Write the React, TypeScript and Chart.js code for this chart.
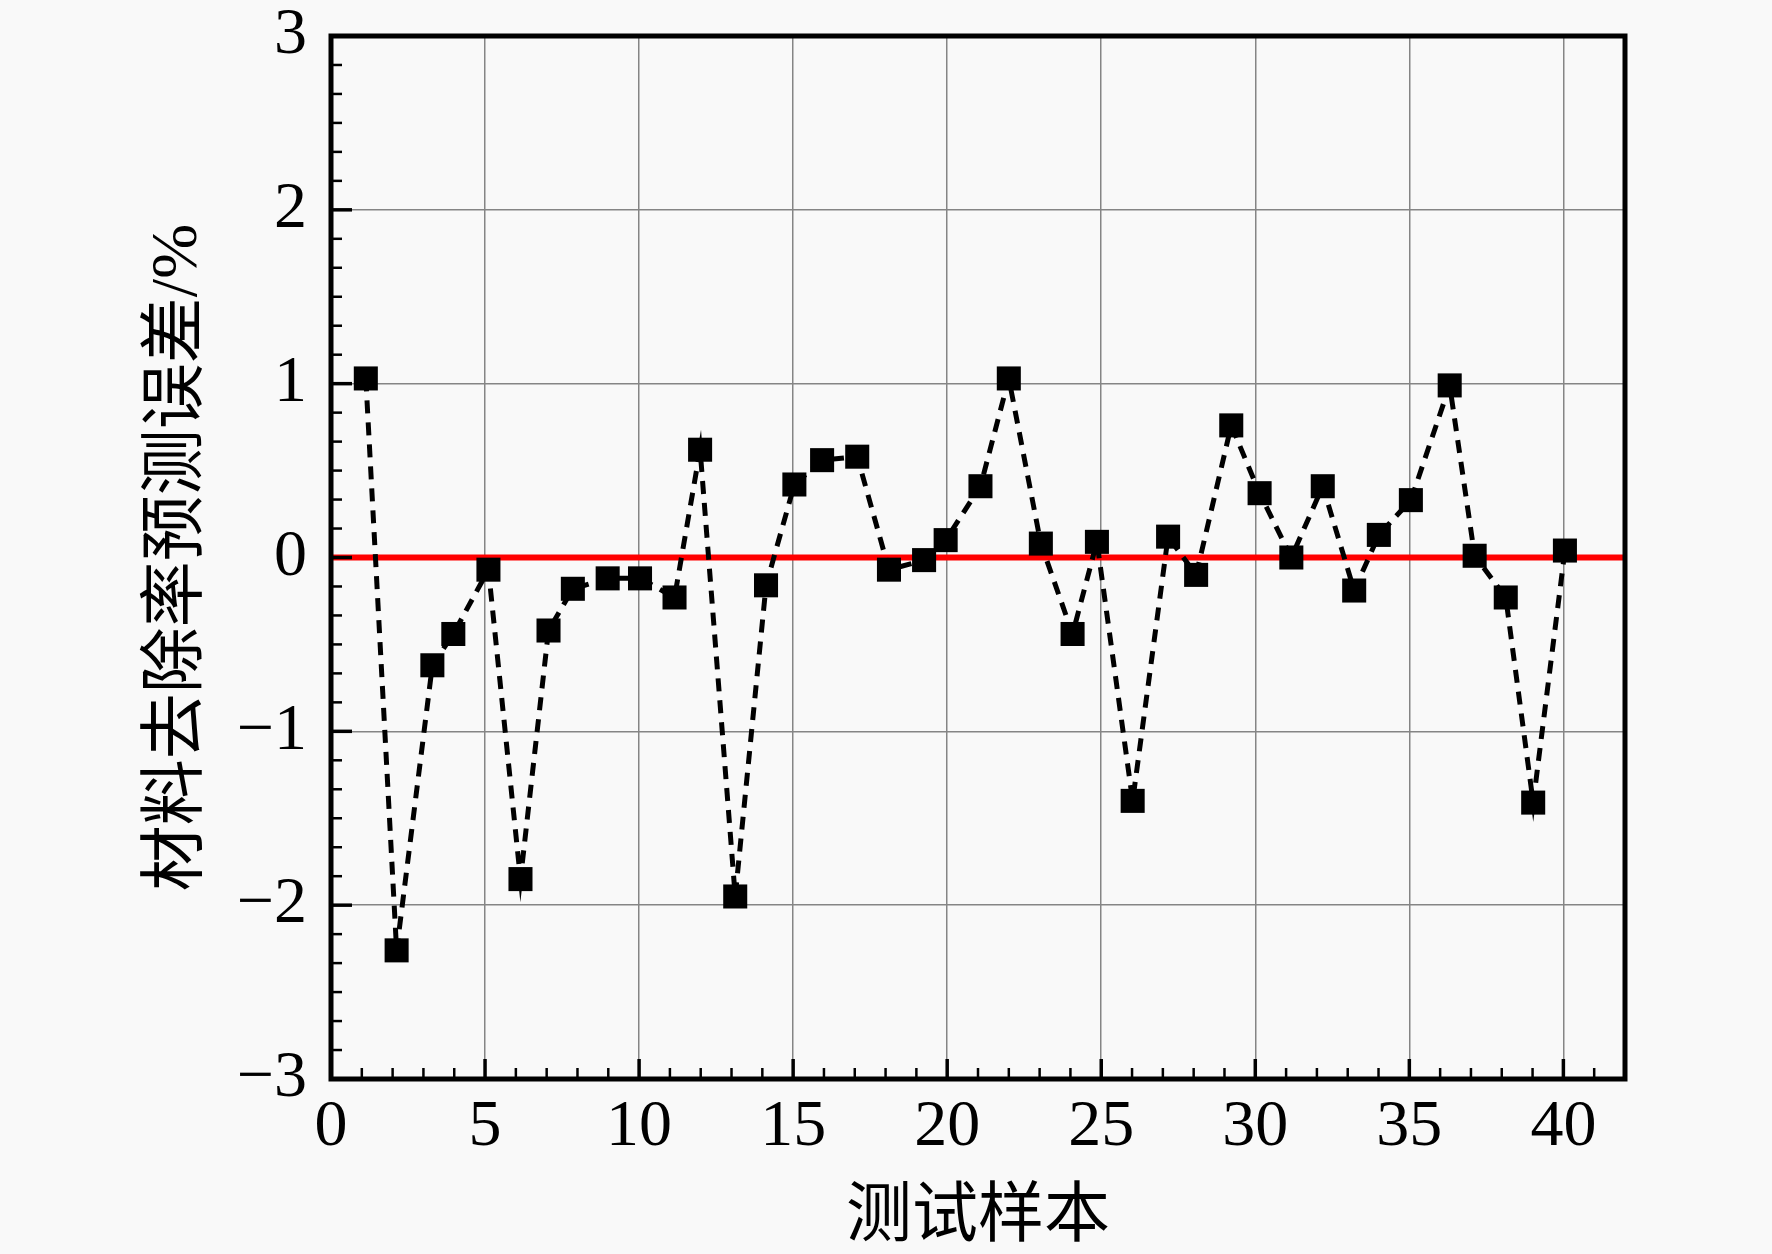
import { useEffect, useRef } from "react"
import { Chart, registerables } from "chart.js"

Chart.register(...registerables)

// test sample index (as placed on the x axis) and the prediction error in %
const sampleX = [
  1.13, 2.13, 3.29, 3.97, 5.11, 6.15, 7.06, 7.85, 8.98, 10.03,
  11.15, 11.98, 13.12, 14.12, 15.04, 15.94, 17.08, 18.11, 19.25, 19.95,
  21.08, 22.0, 23.04, 24.07, 24.86, 26.02, 27.17, 28.08, 29.22, 30.14,
  31.17, 32.19, 33.21, 34.01, 35.05, 36.31, 37.12, 38.13, 39.02, 40.05,
]
const errorY = [
  1.03, -2.26, -0.62, -0.44, -0.07, -1.85, -0.42, -0.18, -0.12, -0.12,
  -0.23, 0.62, -1.95, -0.16, 0.42, 0.56, 0.58, -0.07, -0.015, 0.1,
  0.41, 1.03, 0.08, -0.44, 0.09, -1.4, 0.12, -0.1, 0.76, 0.37,
  0.0, 0.41, -0.19, 0.13, 0.33, 0.99, 0.01, -0.23, -1.41, 0.04,
]

// reference line at zero error
const zeroLineX = [0, 42]
const zeroLineY = [0, 0]

const xTicks = [0, 5, 10, 15, 20, 25, 30, 35, 40]
const yTicks = [-3, -2, -1, 0, 1, 2, 3]
const xRange = [0, 42]
const yRange = [-3, 3]
const xMinorStep = 1
const yMinorStep = 1 / 6

const xTitle = "测试样本"
const yTitle = "材料去除率预测误差/%"

const FONT = "'Liberation Serif', 'Times New Roman', 'Noto Sans CJK SC', serif"
const BG = "#f9f9f9"

// frame plus inward ticks, drawn on top of the grid
const framePlugin = {
  id: "frame",
  beforeDraw(chart: Chart) {
    const { ctx, width, height } = chart
    ctx.save()
    ctx.fillStyle = BG
    ctx.fillRect(0, 0, width, height)
    ctx.restore()
  },
  afterDraw(chart: Chart) {
    const { ctx, chartArea } = chart
    const { left, right, top, bottom } = chartArea
    const xs = chart.scales.x
    const ys = chart.scales.y
    ctx.save()
    ctx.strokeStyle = "#000"
    ctx.lineCap = "butt"

    // minor ticks
    ctx.lineWidth = 2.5
    for (let v = xRange[0] + xMinorStep; v < xRange[1]; v += xMinorStep) {
      if (xTicks.includes(Math.round(v))) continue
      const px = xs.getPixelForValue(v)
      ctx.beginPath()
      ctx.moveTo(px, bottom)
      ctx.lineTo(px, bottom - 11)
      ctx.stroke()
    }
    for (let i = 1; yRange[0] + i * yMinorStep < yRange[1] - 1e-6; i++) {
      if (i % 6 === 0) continue
      const py = ys.getPixelForValue(yRange[0] + i * yMinorStep)
      ctx.beginPath()
      ctx.moveTo(left, py)
      ctx.lineTo(left + 11, py)
      ctx.stroke()
    }

    // major ticks
    ctx.lineWidth = 3.5
    xTicks.forEach((v) => {
      const px = xs.getPixelForValue(v)
      ctx.beginPath()
      ctx.moveTo(px, bottom)
      ctx.lineTo(px, bottom - 20)
      ctx.stroke()
    })
    yTicks.forEach((v) => {
      const py = ys.getPixelForValue(v)
      ctx.beginPath()
      ctx.moveTo(left, py)
      ctx.lineTo(left + 21, py)
      ctx.stroke()
    })

    ctx.lineWidth = 5
    ctx.strokeRect(left, top, right - left, bottom - top)
    ctx.restore()
  },
}

function ErrorChart() {
  const canvasRef = useRef<HTMLCanvasElement>(null)
  const chartRef = useRef<Chart | null>(null)

  useEffect(() => {
    if (!canvasRef.current) return
    if (chartRef.current) chartRef.current.destroy()

    const points = sampleX.map((x, i) => ({ x, y: errorY[i] }))
    const zero = zeroLineX.map((x, i) => ({ x, y: zeroLineY[i] }))

    chartRef.current = new Chart(canvasRef.current, {
      type: "line",
      data: {
        datasets: [
          {
            data: points,
            borderColor: "#000",
            borderWidth: 5,
            borderDash: [13, 9],
            pointStyle: "rect",
            pointRadius: 17,
            pointBackgroundColor: "#000",
            pointBorderWidth: 0,
            order: 0,
          },
          {
            data: zero,
            borderColor: "#ff0000",
            borderWidth: 6,
            pointRadius: 0,
            order: 1,
          },
        ],
      },
      plugins: [framePlugin],
      options: {
        responsive: true,
        maintainAspectRatio: false,
        animation: false,
        devicePixelRatio: 1,
        layout: { padding: { left: 0, top: 36, right: 147, bottom: 0 } },
        plugins: {
          legend: { display: false },
          tooltip: { enabled: false },
        },
        scales: {
          x: {
            type: "linear",
            min: xRange[0],
            max: xRange[1],
            afterBuildTicks: (scale) => {
              scale.ticks = xTicks.map((value) => ({ value }))
            },
            afterFit: (scale) => {
              scale.height = 175
              scale.paddingLeft = 0
              scale.paddingRight = 0
            },
            grid: { color: "#858585", lineWidth: 1.5, drawTicks: false },
            border: { display: false },
            ticks: {
              color: "#000",
              padding: 16,
              font: { family: FONT, size: 66, lineHeight: 1 },
              maxRotation: 0,
              autoSkip: false,
            },
            title: {
              display: true,
              text: xTitle,
              color: "#000",
              font: { family: FONT, size: 66, lineHeight: 1 },
              padding: { top: 0, bottom: 2 },
            },
          },
          y: {
            type: "linear",
            min: yRange[0],
            max: yRange[1],
            afterBuildTicks: (scale) => {
              scale.ticks = yTicks.map((value) => ({ value }))
            },
            afterFit: (scale) => {
              scale.width = 331
              scale.paddingTop = 0
              scale.paddingBottom = 0
            },
            grid: { color: "#858585", lineWidth: 1.5, drawTicks: false },
            border: { display: false },
            ticks: {
              color: "#000",
              padding: 24,
              font: { family: FONT, size: 66, lineHeight: 1 },
              callback: (v) => {
                const n = Number(v)
                return n < 0 ? "\u2212" + Math.abs(n) : String(n)
              },
            },
            title: {
              display: true,
              text: yTitle,
              color: "#000",
              font: { family: FONT, size: 66, lineHeight: 1 },
              padding: { top: 146, bottom: 0 },
            },
          },
        },
      },
    })

    return () => {
      if (chartRef.current) {
        chartRef.current.destroy()
        chartRef.current = null
      }
    }
  }, [])

  return (
    <div style={{ position: "absolute", left: 0, top: 0, width: 1772, height: 1254, background: BG }}>
      <canvas ref={canvasRef} />
    </div>
  )
}

export default function App() {
  return <ErrorChart />
}
